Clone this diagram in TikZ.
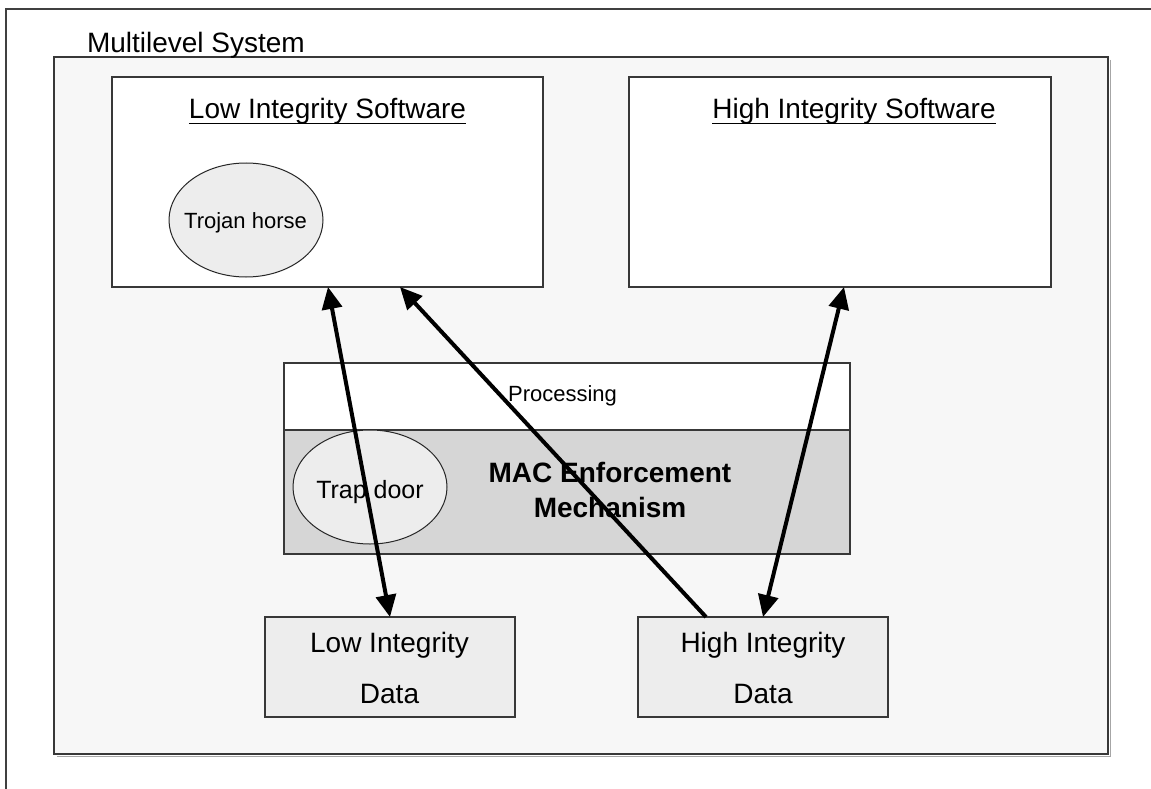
\documentclass[tikz,border=0pt]{standalone}
\usepackage{fontspec}
\setmainfont{Liberation Sans}
\usetikzlibrary{arrows.meta,shapes.geometric}
\begin{document}
\begin{tikzpicture}[x=1pt,y=-1pt,
  boxstyle/.style={draw=black!78,line width=1.3pt,rectangle,inner sep=0pt,outer sep=0pt},
  ellstyle/.style={draw=black!85,line width=1pt,ellipse,inner sep=0pt,outer sep=0pt,fill=black!7},
  txt/.style={inner sep=0pt,outer sep=0pt,anchor=base},
  big/.style={font=\fontsize{28}{34}\selectfont},
  mid/.style={font=\fontsize{22}{26}\selectfont},
  flow/.style={line width=4pt,black},
  tipl/.style={-{Triangle[length=22pt,width=20pt]}},
  tipb/.style={{Triangle[length=22pt,width=20pt]}-{Triangle[length=22pt,width=20pt]}},
  uline/.style={line width=1.8pt,black}
]
\useasboundingbox (0,0) rectangle (1151,789);
\fill[white] (0,0) rectangle (1151,789);
% outer frame
\draw[black!75,line width=1.3pt] (6,789) -- (6,9) -- (1151,9);
% multilevel system box
\draw[black!35,line width=1pt] (1110,60) -- (1110,756) -- (57,756);
\node[boxstyle,fill=black!3,minimum width=1054pt,minimum height=697pt] (sys) at (581,405.5) {};
\node[txt,big,anchor=base west] (systitle) at (87,53) {Multilevel System};
% software boxes
\node[boxstyle,fill=white,minimum width=431pt,minimum height=210pt] (lowsw) at (327.5,182) {};
\node[boxstyle,fill=white,minimum width=422pt,minimum height=210pt] (highsw) at (840,182) {};
\node[txt,big] (lowt) at (327.5,119) {Low Integrity Software};
\node[txt,big] (hight) at (854,119) {High Integrity Software};
\draw[uline] ([yshift=-4.5pt]lowt.base west) -- ([yshift=-4.5pt]lowt.base east);
\draw[uline] ([yshift=-4.5pt]hight.base west) -- ([yshift=-4.5pt]hight.base east);
\node[ellstyle,minimum width=154pt,minimum height=114pt] (trojan) at (246,220) {};
\node[txt,mid] (trojant) at (245.5,228) {Trojan horse};
% processing / MAC
\node[boxstyle,fill=white,minimum width=566pt,minimum height=67pt] (proc) at (567,396.5) {};
\node[boxstyle,fill=black!16,minimum width=566pt,minimum height=124pt] (mac) at (567,492) {};
\node[txt,mid] (proct) at (562.5,401) {Processing};
\node[ellstyle,minimum width=154pt,minimum height=114pt] (trap) at (370,487) {};
\node[txt,font=\fontsize{25}{30}\selectfont] (trapt) at (370,498) {Trap door};
\node[txt,font=\bfseries\fontsize{28}{34}\selectfont] (mac1) at (610,482) {MAC Enforcement};
\node[txt,font=\bfseries\fontsize{28}{34}\selectfont] (mac2) at (610,517) {Mechanism};
% data boxes
\node[boxstyle,fill=black!7,minimum width=250pt,minimum height=100pt] (lowdata) at (390,667) {};
\node[boxstyle,fill=black!7,minimum width=250pt,minimum height=100pt] (highdata) at (763,667) {};
\node[txt,big] (ld1) at (389.5,652) {Low Integrity};
\node[txt,big] (ld2) at (389.5,703) {Data};
\node[txt,big] (hd1) at (763,652) {High Integrity};
\node[txt,big] (hd2) at (763,703) {Data};
% connectors
\draw[flow,tipb] ([xshift=216pt]lowsw.south west) -- (lowdata.north);
\draw[flow,tipl] ([xshift=68pt]highdata.north west) -- ([xshift=288pt]lowsw.south west);
\draw[flow,tipb] ([xshift=215pt]highsw.south west) -- (highdata.north);
\end{tikzpicture}
\end{document}
